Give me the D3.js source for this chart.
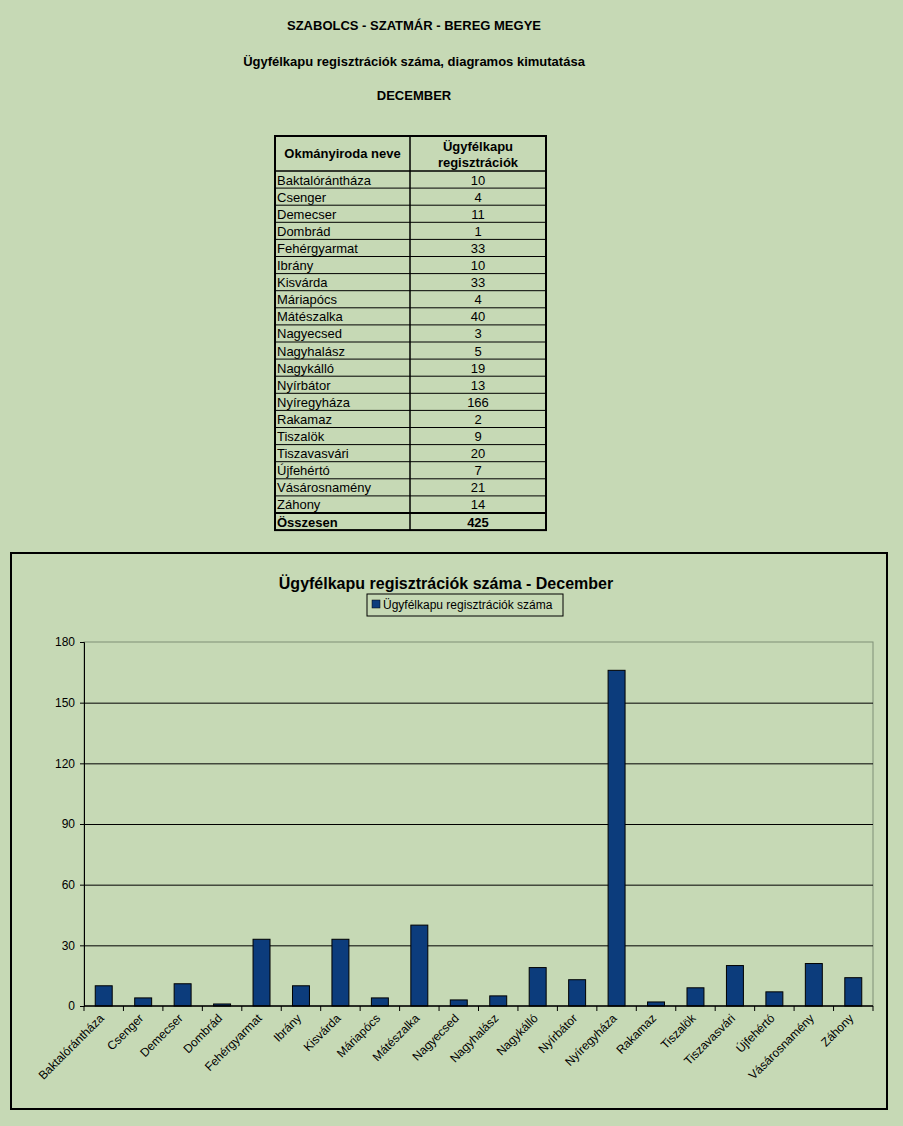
<!DOCTYPE html>
<html>
<head>
<meta charset="utf-8">
<script src="https://cdn.jsdelivr.net/npm/d3@7"></script>
<style>
  body { margin: 0; background: #c6d9b5; }
  svg { display: block; font-family: Arial, "Liberation Sans", sans-serif; }
</style>
</head>
<body>
<svg id="page"></svg>
<script>
// Data
const offices = ['Baktalórántháza', 'Csenger', 'Demecser', 'Dombrád', 'Fehérgyarmat', 'Ibrány', 'Kisvárda',
  'Máriapócs', 'Mátészalka', 'Nagyecsed', 'Nagyhalász', 'Nagykálló', 'Nyírbátor', 'Nyíregyháza',
  'Rakamaz', 'Tiszalök', 'Tiszavasvári', 'Újfehértó', 'Vásárosnamény', 'Záhony'];
const registrations = [10, 4, 11, 1, 33, 10, 33, 4, 40, 3, 5, 19, 13, 166, 2, 9, 20, 7, 21, 14];
const total = 425;
const yTicks = [0, 30, 60, 90, 120, 150, 180];

const titles = ['SZABOLCS - SZATMÁR - BEREG MEGYE', 'Ügyfélkapu regisztrációk száma, diagramos kimutatása', 'DECEMBER'];
const tableHeader = ['Okmányiroda neve', ['Ügyfélkapu', 'regisztrációk']];
const chartTitle = 'Ügyfélkapu regisztrációk száma - December';
const legendLabel = 'Ügyfélkapu regisztrációk száma';

const W = 903, H = 1126;
const barColor = '#0c3c7c';

const svg = d3.select('#page').attr('width', W).attr('height', H);

//Page titles
svg.selectAll('.page-title')
  .data(titles)
  .enter().append('text')
  .attr('class', 'page-title')
  .attr('x', 414)
  .attr('y', (d, i) => [30, 66, 100][i])
  .attr('text-anchor', 'middle')
  .style('font-size', '13px')
  .style('font-weight', 'bold')
  .text(d => d);

//Table
const tX = 275, tMid = 410, tR = 546, tTop = 136, headH = 35, rowH = 17.1;
const tbl = svg.append('g');
const rows = offices.map((o, i) => ({name: o, value: registrations[i]}));
const tBottom = tTop + headH + rowH * (rows.length + 1);

tbl.append('rect')
  .attr('x', tX).attr('y', tTop)
  .attr('width', tR - tX).attr('height', tBottom - tTop)
  .attr('fill', 'none').attr('stroke', '#000').attr('stroke-width', 2);

tbl.append('line')
  .attr('x1', tMid).attr('x2', tMid).attr('y1', tTop).attr('y2', tBottom)
  .attr('stroke', '#000').attr('stroke-width', 1.5);

// header bottom
tbl.append('line')
  .attr('x1', tX).attr('x2', tR).attr('y1', tTop + headH).attr('y2', tTop + headH)
  .attr('stroke', '#000').attr('stroke-width', 1.5);

tbl.append('text')
  .attr('x', (tX + tMid) / 2).attr('y', tTop + 22)
  .attr('text-anchor', 'middle')
  .style('font-size', '13px').style('font-weight', 'bold')
  .text(tableHeader[0]);

tbl.selectAll('.hdr2')
  .data(tableHeader[1])
  .enter().append('text')
  .attr('class', 'hdr2')
  .attr('x', (tMid + tR) / 2)
  .attr('y', (d, i) => tTop + 15 + i * 16)
  .attr('text-anchor', 'middle')
  .style('font-size', '13px').style('font-weight', 'bold')
  .text(d => d);

rows.forEach((r, i) => {
  const y0 = tTop + headH + i * rowH;
  if (i > 0) {
    tbl.append('line')
      .attr('x1', tX).attr('x2', tR).attr('y1', y0).attr('y2', y0)
      .attr('stroke', '#000').attr('stroke-width', 1);
  }
  tbl.append('text')
    .attr('x', tX + 2).attr('y', y0 + 13.5)
    .style('font-size', '13px')
    .text(r.name);
  tbl.append('text')
    .attr('x', (tMid + tR) / 2).attr('y', y0 + 13.5)
    .attr('text-anchor', 'middle')
    .style('font-size', '13px')
    .text(r.value);
});

// total row
const yTot = tTop + headH + rows.length * rowH;
tbl.append('line')
  .attr('x1', tX).attr('x2', tR).attr('y1', yTot).attr('y2', yTot)
  .attr('stroke', '#000').attr('stroke-width', 2);
tbl.append('text')
  .attr('x', tX + 2).attr('y', yTot + 13.5)
  .style('font-size', '13px').style('font-weight', 'bold')
  .text('Összesen');
tbl.append('text')
  .attr('x', (tMid + tR) / 2).attr('y', yTot + 13.5)
  .attr('text-anchor', 'middle')
  .style('font-size', '13px').style('font-weight', 'bold')
  .text(total);

//Chart frame
svg.append('rect')
  .attr('x', 11).attr('y', 553)
  .attr('width', 876).attr('height', 556)
  .attr('fill', 'none').attr('stroke', '#000').attr('stroke-width', 2);

svg.append('text')
  .attr('x', 446).attr('y', 589)
  .attr('text-anchor', 'middle')
  .style('font-size', '16px').style('font-weight', 'bold')
  .text(chartTitle);

//Legend
const lg = svg.append('g');
lg.append('rect')
  .attr('x', 367).attr('y', 594).attr('width', 196).attr('height', 22)
  .attr('fill', 'none').attr('stroke', '#000').attr('stroke-width', 1);
lg.append('rect')
  .attr('x', 372).attr('y', 600).attr('width', 8).attr('height', 8)
  .attr('fill', barColor).attr('stroke', '#000').attr('stroke-width', 0.5);
lg.append('text')
  .attr('x', 383).attr('y', 609)
  .style('font-size', '12px')
  .text(legendLabel);

//Plot area
const plot = { left: 84, right: 873, top: 642, bottom: 1006 };

const x = d3.scaleBand()
  .domain(offices)
  .range([plot.left, plot.right])
  .paddingInner(0.57)
  .paddingOuter(0.285);

const y = d3.scaleLinear()
  .domain([0, 180])
  .range([plot.bottom, plot.top]);

const g = svg.append('g');

// plot border (top & right gray)
g.append('rect')
  .attr('x', plot.left).attr('y', plot.top)
  .attr('width', plot.right - plot.left).attr('height', plot.bottom - plot.top)
  .attr('fill', 'none').attr('stroke', '#7f8f77').attr('stroke-width', 1);

// gridlines
g.selectAll('.grid')
  .data(yTicks.filter(t => t > 0 && t < 180))
  .enter().append('line')
  .attr('class', 'grid')
  .attr('x1', plot.left).attr('x2', plot.right)
  .attr('y1', d => y(d) + 0.5).attr('y2', d => y(d) + 0.5)
  .attr('stroke', '#000').attr('stroke-width', 1);

// bars
g.selectAll('.bar')
  .data(rows)
  .enter().append('rect')
  .attr('class', 'bar')
  .attr('x', d => x(d.name))
  .attr('y', d => y(d.value))
  .attr('width', x.bandwidth())
  .attr('height', d => y(0) - y(d.value))
  .attr('fill', barColor)
  .attr('stroke', '#000').attr('stroke-width', 1);

// y axis
const yAxis = d3.axisLeft(y).tickValues(yTicks).tickSize(4).tickPadding(5);
const ya = g.append('g')
  .attr('transform', `translate(${plot.left},0)`)
  .call(yAxis);
ya.select('.domain').attr('stroke', '#000');
ya.selectAll('text').style('font-size', '12px').style('font-family', 'Arial, "Liberation Sans", sans-serif').attr('fill', '#000');

// x axis: ticks at band boundaries
const bounds = d3.range(offices.length + 1).map(i => plot.left + i * (plot.right - plot.left) / offices.length);
g.append('line')
  .attr('x1', plot.left).attr('x2', plot.right)
  .attr('y1', plot.bottom).attr('y2', plot.bottom)
  .attr('stroke', '#000').attr('stroke-width', 1.5);
g.selectAll('.xtick')
  .data(bounds)
  .enter().append('line')
  .attr('class', 'xtick')
  .attr('x1', d => d).attr('x2', d => d)
  .attr('y1', plot.bottom).attr('y2', plot.bottom + 5)
  .attr('stroke', '#000');

g.selectAll('.xlabel')
  .data(offices)
  .enter().append('text')
  .attr('class', 'xlabel')
  .attr('transform', d => `translate(${x(d) + x.bandwidth() / 2 + 1},${plot.bottom + 13}) rotate(-45)`)
  .attr('text-anchor', 'end')
  .style('font-size', '12px')
  .text(d => d);
</script>
</body>
</html>
